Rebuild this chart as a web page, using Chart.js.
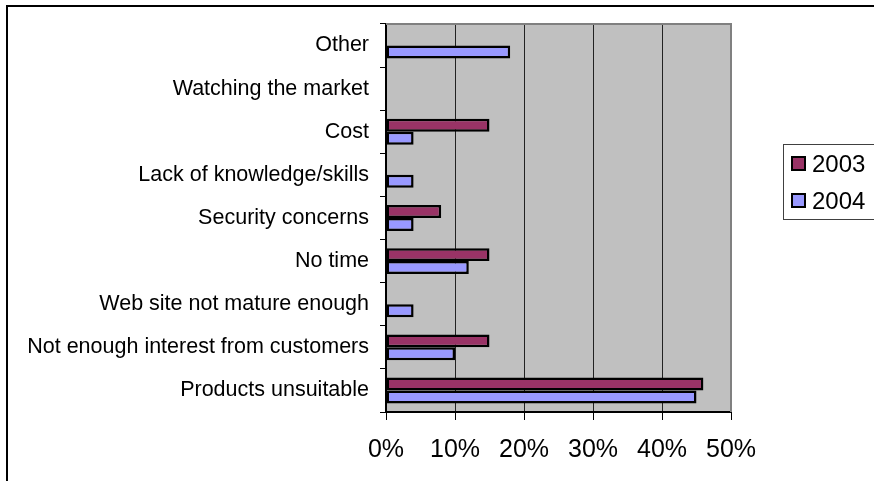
<!DOCTYPE html>
<html>
<head>
<meta charset="utf-8">
<script src="https://cdn.jsdelivr.net/npm/chart.js@4"></script>
<style>
  html, body { margin: 0; padding: 0; background: #fff; overflow: hidden; }
  #wrap { width: 874px; height: 481px; }
</style>
</head>
<body>
<div id="wrap"><canvas id="reasons-chart" width="874" height="481"></canvas></div>
<script>
// Data
const categories = [
  'Other',
  'Watching the market',
  'Cost',
  'Lack of knowledge/skills',
  'Security concerns',
  'No time',
  'Web site not mature enough',
  'Not enough interest from customers',
  'Products unsuitable'
]
const values2003 = [0, 0, 15, 0, 8, 15, 0, 15, 46]
const values2004 = [18, 0, 4, 4, 4, 12, 4, 10, 45]
const xTicks = [0, 10, 20, 30, 40, 50]

const fontFamily = "'Liberation Sans', Arial, sans-serif"

// Frame, plot background and borders - Excel look
const excelFrame = {
  id: 'excelFrame',
  beforeDraw: (chart) => {
    const { ctx, chartArea } = chart
    ctx.save()
    ctx.fillStyle = '#ffffff'
    ctx.fillRect(0, 0, chart.width, chart.height)
    ctx.strokeStyle = '#000000'
    ctx.lineWidth = 2
    ctx.beginPath()
    ctx.moveTo(7, chart.height + 5)
    ctx.lineTo(7, 6)
    ctx.lineTo(chart.width + 5, 6)
    ctx.stroke()
    ctx.fillStyle = '#c0c0c0'
    ctx.fillRect(chartArea.left, chartArea.top, chartArea.right - chartArea.left, chartArea.bottom - chartArea.top)
    ctx.restore()
  },
  afterDatasetsDraw: (chart) => {
    const { ctx, chartArea } = chart
    ctx.save()
    ctx.strokeStyle = '#808080'
    ctx.lineWidth = 2
    ctx.beginPath()
    ctx.moveTo(chartArea.left, chartArea.top)
    ctx.lineTo(chartArea.right, chartArea.top)
    ctx.lineTo(chartArea.right, chartArea.bottom)
    ctx.stroke()
    ctx.restore()
  },
  afterDraw: (chart) => {
    // Legend box
    const { ctx } = chart
    ctx.save()
    ctx.strokeStyle = '#404040'
    ctx.lineWidth = 1
    ctx.strokeRect(783.5, 144.5, 120, 75)
    chart.data.datasets.forEach((ds, i) => {
      const y = 164 + i * 37
      ctx.fillStyle = ds.backgroundColor
      ctx.fillRect(792, y - 7, 13, 13)
      ctx.strokeStyle = '#000000'
      ctx.lineWidth = 2
      ctx.strokeRect(792, y - 7, 13, 13)
      ctx.fillStyle = '#000000'
      ctx.font = '24px ' + fontFamily
      ctx.textBaseline = 'middle'
      ctx.textAlign = 'left'
      ctx.fillText(ds.label, 812, y + 1)
    })
    ctx.restore()
  }
}

const reasonsChart = document.querySelector('#reasons-chart')
if (reasonsChart) {
  new Chart(reasonsChart, {
    type: 'bar',
    data: {
      labels: categories,
      datasets: [
        {
          label: '2003',
          data: values2003,
          backgroundColor: '#993366',
          borderColor: '#000000',
          borderWidth: 2.5,
          borderSkipped: false
        },
        {
          label: '2004',
          data: values2004,
          backgroundColor: '#9999ff',
          borderColor: '#000000',
          borderWidth: 2.5,
          borderSkipped: false
        }
      ]
    },
    options: {
      indexAxis: 'y',
      responsive: false,
      animation: false,
      categoryPercentage: 0.6,
      barPercentage: 1,
      layout: {
        padding: { left: 0, top: 22, right: 143, bottom: 0 }
      },
      plugins: {
        legend: { display: false },
        tooltip: { enabled: false }
      },
      scales: {
        x: {
          min: 0,
          max: 50,
          afterBuildTicks: (scale) => {
            scale.ticks = xTicks.map((v) => ({ value: v }))
          },
          afterFit: (scale) => {
            scale.height = 69
          },
          ticks: {
            callback: (value) => value + '%',
            color: '#000000',
            font: { family: fontFamily, size: 25 },
            padding: 15,
            maxRotation: 0
          },
          grid: {
            color: (ctx) => (ctx.tick && ctx.tick.value === 0 ? 'rgba(0,0,0,0)' : '#222222'),
            tickColor: '#000000',
            tickLength: 8,
            lineWidth: 1
          },
          border: { color: '#000000', width: 2 }
        },
        y: {
          afterFit: (scale) => {
            scale.width = 386
          },
          ticks: {
            color: '#000000',
            font: { family: fontFamily, size: 21.5 },
            padding: 11
          },
          grid: {
            drawOnChartArea: false,
            tickColor: '#000000',
            tickLength: 6,
            offset: true
          },
          border: { color: '#000000', width: 2 }
        }
      }
    },
    plugins: [excelFrame]
  })
}
</script>
</body>
</html>
